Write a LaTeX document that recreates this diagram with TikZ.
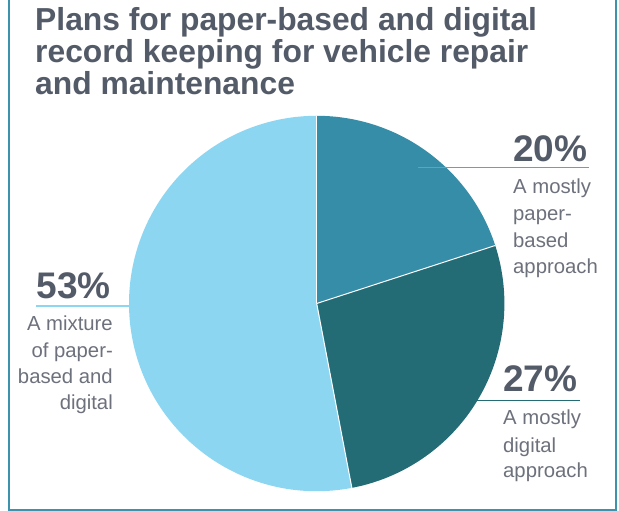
\documentclass[tikz,border=0pt]{standalone}
\usepackage{fontspec}
\setmainfont{Liberation Sans}
\definecolor{framecol}{HTML}{3B93AD}
\definecolor{titlecol}{HTML}{545B68}
\definecolor{bodycol}{HTML}{6D717C}
\definecolor{sliceA}{HTML}{368DA8}
\definecolor{sliceB}{HTML}{236C76}
\definecolor{sliceC}{HTML}{8DD6F2}
\definecolor{leadA}{HTML}{5AA6BC}
\tikzset{
  titletext/.style={anchor=base west, inner sep=0pt, text=titlecol, font=\fontsize{31.8}{31.8}\selectfont\bfseries},
  pcttext/.style={inner sep=0pt, text=titlecol, font=\fontsize{37}{37}\selectfont\bfseries},
  bodytext/.style={inner sep=0pt, text=bodycol, font=\fontsize{20.3}{20.3}\selectfont},
  leader/.style={line width=1.5pt},
  sep/.style={white, line width=1pt}
}
\begin{document}
\begin{tikzpicture}[x=1pt,y=1pt]
\useasboundingbox (0,0) rectangle (619,511);
\fill[white] (0,0) rectangle (619,511);
% frame
\draw[framecol, line width=2.2pt] (9,511) -- (9,1.2) -- (616,1.2) -- (616,511);
% title
\node[titletext] (title1) at (35,480.3) {Plans for paper-based and digital};
\node[titletext] (title2) at (35,448.5) {record keeping for vehicle repair};
\node[titletext] (title3) at (35,416.8) {and maintenance};
% pie
\coordinate (C) at (316.7,207.5);
\def\R{187.7}
\fill[sliceA] (C) -- ++(90:\R) arc[start angle=90, end angle=18, radius=\R] -- cycle;
\fill[sliceB] (C) -- ++(18:\R) arc[start angle=18, end angle=-79.2, radius=\R] -- cycle;
\fill[sliceC] (C) -- ++(-79.2:\R) arc[start angle=-79.2, end angle=-270, radius=\R] -- cycle;
\draw[sep] (C) -- ++(90:\R);
\draw[sep] (C) -- ++(18:\R);
\draw[sep] (C) -- ++(-79.2:\R);
% leader lines
\coordinate (l20a) at (418,343.3); \coordinate (l20b) at (589,343.3);
\coordinate (l53a) at (36,205); \coordinate (l53b) at (145,205);
\coordinate (l27a) at (471,110.7); \coordinate (l27b) at (580,110.7);
\draw[leader, leadA] (l20a) -- (l20b);
\draw[leader, sliceC] (l53a) -- (l53b);
\draw[leader, sliceB] (l27a) -- (l27b);
% 20%
\node[pcttext, anchor=base west] (p20) at (513,349) {20\%};
\node[bodytext, anchor=base west] (t20a) at (513,317) {A mostly};
\node[bodytext, anchor=base west] (t20b) at (513,290.3) {paper-};
\node[bodytext, anchor=base west] (t20c) at (513,263.7) {based};
\node[bodytext, anchor=base west] (t20d) at (513,237) {approach};
% 53%
\node[pcttext, anchor=base east] (p53) at (111,212.7) {53\%};
\node[bodytext, anchor=base east] (t53a) at (113,180) {A mixture};
\node[bodytext, anchor=base east] (t53b) at (113,153.7) {of paper-};
\node[bodytext, anchor=base east] (t53c) at (113,127.4) {based and};
\node[bodytext, anchor=base east] (t53d) at (113,101) {digital};
% 27%
\node[pcttext, anchor=base west] (p27) at (503,119) {27\%};
\node[bodytext, anchor=base west] (t27a) at (503,86) {A mostly};
\node[bodytext, anchor=base west] (t27b) at (503,58.3) {digital};
\node[bodytext, anchor=base west] (t27c) at (503,33) {approach};
\end{tikzpicture}
\end{document}
